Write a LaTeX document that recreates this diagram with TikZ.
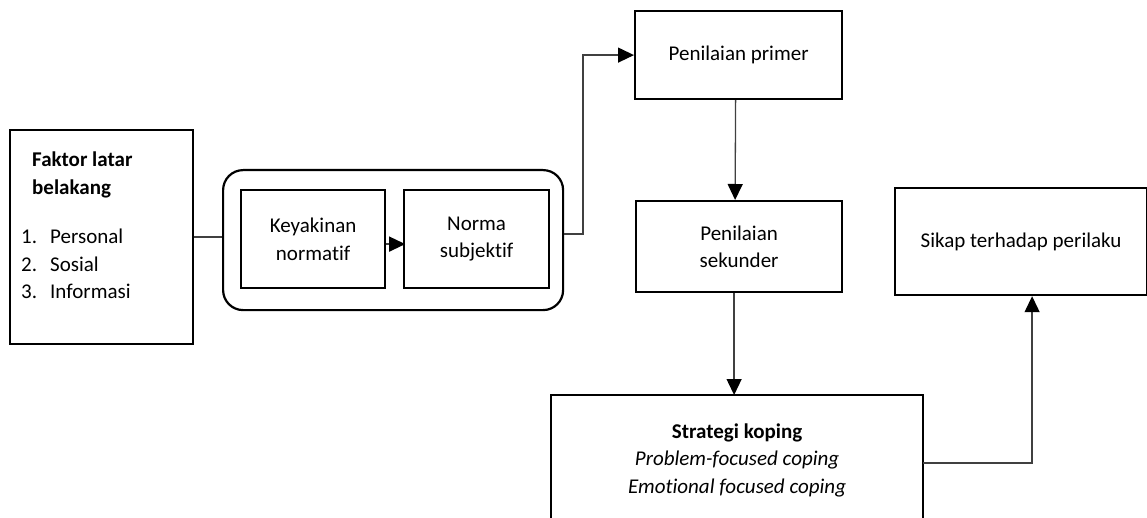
\documentclass[tikz,border=0pt]{standalone}
\usepackage{fontspec}
\setmainfont{Carlito}[Ligatures={NoCommon}]
\usetikzlibrary{arrows.meta,calc}
\begin{document}
\begin{tikzpicture}[x=1pt,y=-1pt,
  font=\fontsize{21}{27.5}\selectfont,
  box/.style={draw=black,line width=2.2pt,inner sep=0pt,align=center,anchor=north west},
  conn/.style={draw=black!75,line width=1.3pt},
  arr/.style={conn,-{Triangle[length=16pt,width=15pt,fill=black,color=black]}}]
\useasboundingbox (0,0) rectangle (1147,518);
% boxes
\node[box,minimum width=183pt,minimum height=214pt] (faktor) at (9,129) {};
\node[anchor=north west,align=left,inner sep=0pt] (faktortxt) at (21,152)
  {\hspace*{11pt}\textbf{Faktor latar}\\
   \hspace*{11pt}\textbf{belakang}\\[22pt]
   \makebox[29pt][l]{1.}Personal\\
   \makebox[29pt][l]{2.}Sosial\\
   \makebox[29pt][l]{3.}Informasi};
\node[box,rounded corners=20pt,minimum width=340pt,minimum height=140pt] (group) at (222,169) {};
\node[box,minimum width=144pt,minimum height=98pt] (keyakinan) at (240,189) {Keyakinan\\normatif};
\node[box,minimum width=145pt,minimum height=98pt] (norma) at (403,189) {Norma\\subjektif};
\node[box,minimum width=207pt,minimum height=88pt] (primer) at (634,10) {Penilaian primer};
\node[box,minimum width=206pt,minimum height=91pt] (sekunder) at (635,200) {Penilaian\\sekunder};
\node[box,draw=none,minimum width=370pt,minimum height=128pt] (strategi) at (551,395)
  {\textbf{Strategi koping}\\ \textit{Problem-focused coping}\\ \textit{Emotional focused coping}};
\draw[line width=2.2pt] (strategi.south west) -- (strategi.north west) -- (strategi.north east) -- (strategi.south east);
\node[box,minimum width=252pt,minimum height=107pt] (sikap) at (894,187) {Sikap terhadap perilaku};
% connectors
\draw[conn] (faktor.east) -- (faktor.east -| group.west);
\draw[arr] ($(keyakinan.east)+(0,5)$) -- ($(keyakinan.east)+(19,5)$);
\draw[arr] ($(group.east)+(0,-6)$) -| ($(primer.west)+(-51,0)$) -- (primer.west);
\draw[arr] ($(primer.south)+(-3,0)$) -- ($(sekunder.north)+(-4,0)$);
\draw[arr] ($(sekunder.south)+(-5,0)$) -- ($(strategi.north)+(-3,0)$);
\draw[arr] ($(strategi.east)+(0,3)$) -| ($(sikap.south)+(11,0)$);
\end{tikzpicture}
\end{document}
